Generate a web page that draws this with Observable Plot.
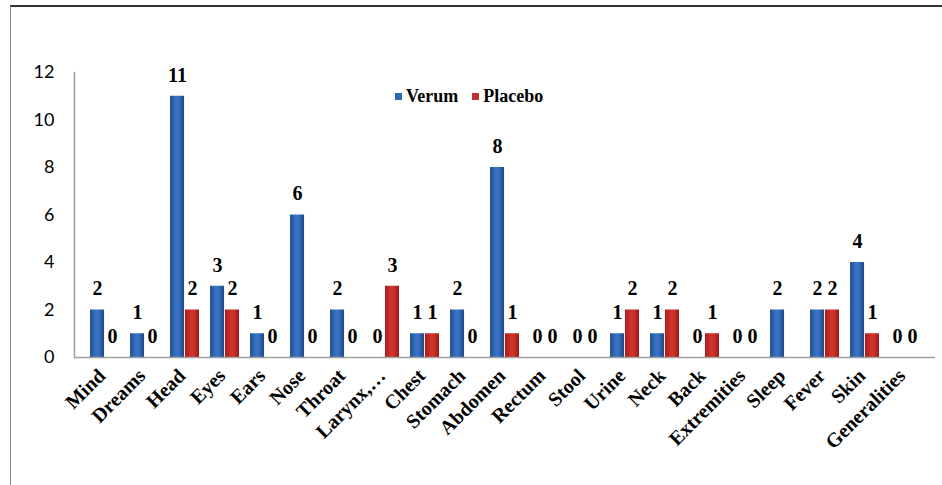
<!DOCTYPE html>
<html>
<head>
<meta charset="utf-8">
<script src="https://cdn.jsdelivr.net/npm/d3@7"></script>
<script src="https://cdn.jsdelivr.net/npm/@observablehq/plot@0.6"></script>
<style>
  html, body { margin: 0; padding: 0; background: #fff; }
  #wrap { position: relative; width: 942px; height: 485px; overflow: hidden; }
  #frame { position: absolute; left: 10px; top: 5px; width: 940px; height: 490px;
           border-top: 2px solid #333; border-left: 1.5px solid #888; box-sizing: border-box; pointer-events: none; }
  #legend { position: absolute; left: 395px; top: 86px; font-family: "Liberation Serif", "DejaVu Serif", serif; font-weight: bold; font-size: 18px; color: #000; white-space: nowrap; }
  #legend span.sw { display: inline-block; width: 7px; height: 7px; margin-right: 4px; vertical-align: 2px; }
  #legend span.sw2 { margin-left: 14px; }
  svg text.serif, svg .serif text { font-family: "Liberation Serif", "DejaVu Serif", serif !important; }
</style>
</head>
<body>
<div id="wrap"><div id="chart"></div><div id="frame"></div>
<div id="legend"><span class="sw" style="background:#2f65b3"></span>Verum<span class="sw sw2" style="background:#c0302c"></span>Placebo</div>
</div>
<script>
const categories = ["Mind","Dreams","Head","Eyes","Ears","Nose","Throat","Larynx,…","Chest","Stomach","Abdomen","Rectum","Stool","Urine","Neck","Back","Extremities","Sleep","Fever","Skin","Generalities"];
const verum   = [2,1,11,3,1,6,2,0,1,2,8,0,0,1,1,0,0,2,2,4,0];
const placebo = [0,0,2,2,0,0,0,3,1,0,1,0,0,2,2,1,0,null,2,1,0];
const yTicks = [0,2,4,6,8,10,12];

const W = 942, H = 485, mL = 74, mR = 7, mT = 72, mB = 128;
const pInner = 0.27, pOuter = 0.15;
const step = (W - mL - mR) / (categories.length - pInner + 2 * pOuter);
const half = step * (1 - pInner) / 2;

const rows = categories.map((c, i) => ({category: c, verum: verum[i], placebo: placebo[i]}));
const serif = "Liberation Serif";

const chart = Plot.plot({
  width: W, height: H,
  marginLeft: mL, marginRight: mR, marginTop: mT, marginBottom: mB,
  style: {fontFamily: "Lato, 'Open Sans', sans-serif"},
  x: {domain: categories, paddingInner: pInner, paddingOuter: pOuter, label: null},
  y: {domain: [0, 12], label: null},
  marks: [
    Plot.axisY({ticks: yTicks, tickSize: 0, tickPadding: 20, fontSize: 18, color: "#000", label: null}),
    Plot.frame({anchor: "left", stroke: "#9a9a9a", strokeWidth: 1.5}),
    Plot.axisX({tickSize: 0, tickPadding: 15, dx: -3, tickRotate: -45, fontSize: 20, fontWeight: "bold", fontFamily: serif, className: "serif", color: "#000", label: null}),
    Plot.barY(rows.filter(d => d.verum > 0), {x: "category", y: "verum", fill: "url(#gradBlue)", insetRight: half}),
    Plot.barY(rows.filter(d => d.placebo > 0), {x: "category", y: "placebo", fill: "url(#gradRed)", insetLeft: half}),
    Plot.ruleY([0], {stroke: "#a0a0a0", strokeWidth: 1.5}),
    Plot.text(rows.filter(d => d.verum != null), {x: "category", y: "verum", text: d => String(d.verum), dx: -half / 2, dy: -21, fontSize: 20, fontWeight: "bold", fontFamily: serif, className: "serif", fill: "#000"}),
    Plot.text(rows.filter(d => d.placebo != null), {x: "category", y: "placebo", text: d => String(d.placebo), dx: half / 2, dy: -21, fontSize: 20, fontWeight: "bold", fontFamily: serif, className: "serif", fill: "#000"})
  ]
});

// gradients for the glossy bar look
const ns = "http://www.w3.org/2000/svg";
const defs = document.createElementNS(ns, "defs");
defs.innerHTML = `
  <linearGradient id="gradBlue" x1="0" x2="1" y1="0" y2="0">
    <stop offset="0" stop-color="#234f94"/>
    <stop offset="0.45" stop-color="#3b74c4"/>
    <stop offset="0.6" stop-color="#3a72c2"/>
    <stop offset="1" stop-color="#1f4888"/>
  </linearGradient>
  <linearGradient id="gradRed" x1="0" x2="1" y1="0" y2="0">
    <stop offset="0" stop-color="#a8201d"/>
    <stop offset="0.45" stop-color="#d0332e"/>
    <stop offset="0.6" stop-color="#cf322d"/>
    <stop offset="1" stop-color="#9a1c19"/>
  </linearGradient>`;
chart.insertBefore(defs, chart.firstChild);
document.getElementById("chart").appendChild(chart);
</script>
</body>
</html>
